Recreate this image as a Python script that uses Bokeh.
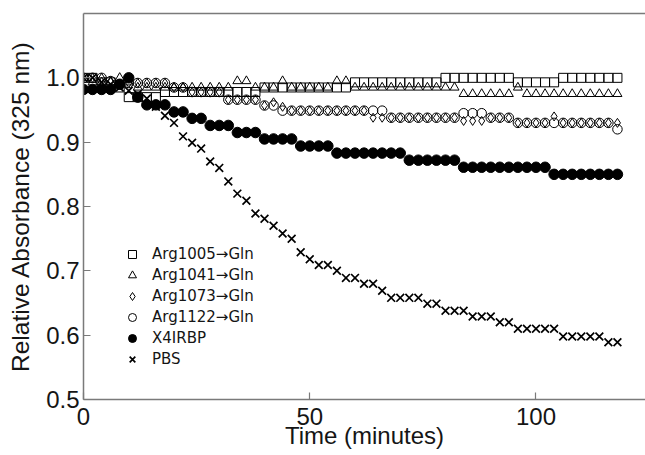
from bokeh.plotting import figure
from bokeh.models import Range1d, LinearAxis, Legend, LegendItem, FixedTicker
from bokeh.embed import file_html
from bokeh.resources import INLINE

# ---- data ----
time_min = [0, 2, 4, 6, 8, 10, 12, 14, 16, 18, 20, 22, 24, 26, 28, 30, 32, 34, 36, 38,
            40, 42, 44, 46, 48, 50, 52, 54, 56, 58, 60, 62, 64, 66, 68, 70, 72, 74, 76, 78,
            80, 82, 84, 86, 88, 90, 92, 94, 96, 98, 100, 102, 104, 106, 108, 110, 112, 114, 116, 118]

arg1005 = [1.0, 1.0, 0.993, 0.993, 0.985, 0.97, 0.97, 0.97, 0.97,
           0.978, 0.978, 0.978, 0.978, 0.978, 0.978, 0.978, 0.978, 0.978, 0.978, 0.978,
           0.985, 0.985, 0.985, 0.985, 0.985, 0.985, 0.985, 0.985, 0.985, 0.985,
           0.993, 0.993, 0.993, 0.993, 0.993, 0.993, 0.993, 0.993, 0.993, 0.993,
           1.0, 1.0, 1.0, 1.0, 1.0, 1.0, 1.0, 1.0,
           0.993, 0.993, 0.993, 0.993, 0.993,
           1.0, 1.0, 1.0, 1.0, 1.0, 1.0, 1.0]

arg1041 = [1.0, 0.993, 0.993, 0.993, 1.0, 0.993, 0.985, 0.985, 0.985,
           0.985, 0.985, 0.985, 0.985, 0.985, 0.985, 0.985, 0.985,
           0.995, 0.995, 0.985, 0.985, 0.985, 0.995,
           0.985, 0.985, 0.985, 0.985, 0.985, 0.995, 0.995,
           0.985, 0.985, 0.985, 0.985, 0.985, 0.985, 0.985, 0.985, 0.985, 0.985, 0.985, 0.985,
           0.975, 0.975, 0.975, 0.975, 0.975, 0.975,
           0.985,
           0.975, 0.975, 0.975, 0.975, 0.975, 0.975, 0.975, 0.975, 0.975, 0.975, 0.975]

arg1073 = [1.0, 1.0, 1.0, 0.995, 0.99, 0.992, 0.992, 0.992, 0.992, 0.992,
           0.985, 0.985, 0.978, 0.978, 0.978, 0.978, 0.966, 0.966, 0.966, 0.966,
           0.957, 0.962, 0.955,
           0.949, 0.949, 0.949, 0.949, 0.949, 0.949, 0.949, 0.949, 0.949,
           0.938, 0.938,
           0.938, 0.938, 0.938, 0.938, 0.938, 0.938, 0.938, 0.938,
           0.933, 0.933, 0.933, 0.938, 0.938, 0.938,
           0.93, 0.93, 0.93, 0.93, 0.94,
           0.93, 0.93, 0.93, 0.93, 0.93, 0.93, 0.93]

arg1122 = [1.0, 1.0, 1.0, 0.995, 0.99, 0.992, 0.992, 0.992, 0.992, 0.992,
           0.985, 0.985, 0.978, 0.978, 0.978, 0.978, 0.966, 0.966, 0.966, 0.966,
           0.957, 0.957,
           0.949, 0.949, 0.949, 0.949, 0.949, 0.949, 0.949, 0.949, 0.949, 0.949, 0.949, 0.949,
           0.938, 0.938, 0.938, 0.938, 0.938, 0.938, 0.938, 0.938,
           0.945, 0.945, 0.945, 0.938, 0.938, 0.938,
           0.93, 0.93, 0.93, 0.93, 0.93, 0.93, 0.93, 0.93, 0.93, 0.93, 0.93,
           0.92]

x4irbp = [0.982, 0.982, 0.982, 0.982, 0.99, 1.0, 0.97,
          0.958, 0.958, 0.958, 0.947, 0.947, 0.937, 0.937,
          0.926, 0.926, 0.926, 0.915, 0.915, 0.915,
          0.905, 0.905, 0.905, 0.905, 0.894, 0.894, 0.894, 0.894,
          0.883, 0.883, 0.883, 0.883, 0.883, 0.883, 0.883, 0.883,
          0.872, 0.872, 0.872, 0.872, 0.872, 0.872,
          0.861, 0.861, 0.861, 0.861, 0.861, 0.861, 0.861, 0.861, 0.861, 0.861,
          0.85, 0.85, 0.85, 0.85, 0.85, 0.85, 0.85, 0.85]

pbs = [1.0, 1.0, 0.993, 0.99, 0.985, 0.98, 0.975, 0.968, 0.955, 0.941,
       0.93, 0.909, 0.899, 0.89, 0.87, 0.86, 0.839, 0.82, 0.809, 0.789,
       0.781, 0.77, 0.758, 0.75, 0.729, 0.718, 0.709, 0.709, 0.70, 0.689,
       0.689, 0.68, 0.68, 0.669, 0.658, 0.658, 0.658, 0.658, 0.649, 0.649,
       0.638, 0.638, 0.638, 0.629, 0.629, 0.629, 0.62, 0.62, 0.61, 0.61,
       0.61, 0.61, 0.61, 0.598, 0.598, 0.598, 0.598, 0.598, 0.589, 0.589]

series_labels = ["Arg1005\u2192Gln", "Arg1041\u2192Gln", "Arg1073\u2192Gln",
                 "Arg1122\u2192Gln", "X4IRBP", "PBS"]

x_ticks = [0, 50, 100]
x_tick_labels = ["0", "50", "100"]
y_ticks = [0.5, 0.6, 0.7, 0.8, 0.9, 1.0]
y_tick_labels = ["0.5", "0.6", "0.7", "0.8", "0.9", "1.0"]
x_title = "Time (minutes)"
y_title = "Relative Absorbance (325 nm)"

# ---- figure ----
FONT = "Liberation Sans"
AX_COLOR = "#7a7a7a"
TXT = "#151515"

p = figure(width=645, height=455, output_backend="svg", toolbar_location=None,
           x_range=Range1d(0, 124.2), y_range=Range1d(0.5, 1.1),
           min_border_left=83, min_border_right=0, min_border_top=13,
           min_border_bottom=56)
p.outline_line_color = None
p.xgrid.visible = False
p.ygrid.visible = False
p.background_fill_color = "white"
p.border_fill_color = "white"

for ax in (p.xaxis[0], p.yaxis[0]):
    ax.axis_line_color = AX_COLOR
    ax.axis_line_width = 1.5
    ax.major_tick_line_color = AX_COLOR
    ax.major_tick_line_width = 1.2
    ax.major_tick_in = 7
    ax.major_tick_out = 0
    ax.minor_tick_line_color = None
    ax.major_label_text_font = FONT
    ax.major_label_text_font_size = "24px"
    ax.major_label_text_color = TXT
    ax.axis_label_text_font = FONT
    ax.axis_label_text_font_style = "normal"
    ax.axis_label_text_color = TXT

p.xaxis.ticker = FixedTicker(ticks=x_ticks)
p.xaxis.major_label_overrides = dict(zip(x_ticks, x_tick_labels))
p.yaxis.ticker = FixedTicker(ticks=y_ticks)
p.yaxis.major_label_overrides = dict(zip(y_ticks, y_tick_labels))
p.xaxis.axis_label = x_title
p.yaxis.axis_label = y_title
p.xaxis.axis_label_text_font_size = "24px"
p.yaxis.axis_label_text_font_size = "24.5px"
p.xaxis.major_label_standoff = 8
p.xaxis.axis_label_standoff = -6
p.yaxis.major_label_standoff = 4
p.yaxis.axis_label_standoff = 9

# top frame line
top = LinearAxis(ticker=FixedTicker(ticks=[]), axis_line_color=AX_COLOR,
                 axis_line_width=1.5, major_tick_line_color=None,
                 minor_tick_line_color=None, major_label_text_font_size="0px")
p.add_layout(top, "above")

# ---- glyphs ----
r1 = p.scatter(time_min, arg1005, marker="square", size=9, line_color="black",
               line_width=1, fill_color=None)
r2 = p.scatter(time_min, arg1041, marker="triangle", size=9, line_color="black",
               line_width=1, fill_color=None)
r3 = p.scatter(time_min, arg1073, marker="diamond", size=9, line_color="black",
               line_width=1, fill_color=None)
r4 = p.scatter(time_min, arg1122, marker="circle", size=9.5, line_color="black",
               line_width=1, fill_color=None)
r5 = p.scatter(time_min, x4irbp, marker="circle", size=10.5, line_color="black",
               line_width=1, fill_color="black")
r6 = p.scatter(time_min, pbs, marker="x", size=11, line_color="black",
               line_width=1.7)

legend = Legend(items=[LegendItem(label=lab, renderers=[r])
                       for lab, r in zip(series_labels, [r1, r2, r3, r4, r5, r6])],
                location=(39, 30), padding=0, spacing=1, margin=0,
                glyph_height=20, glyph_width=20, label_standoff=10,
                border_line_color=None, background_fill_alpha=0,
                label_text_font="DejaVu Sans", label_text_font_size="15px",
                label_text_color=TXT)
p.add_layout(legend)

open("out.html", "w").write(file_html(p, INLINE))
